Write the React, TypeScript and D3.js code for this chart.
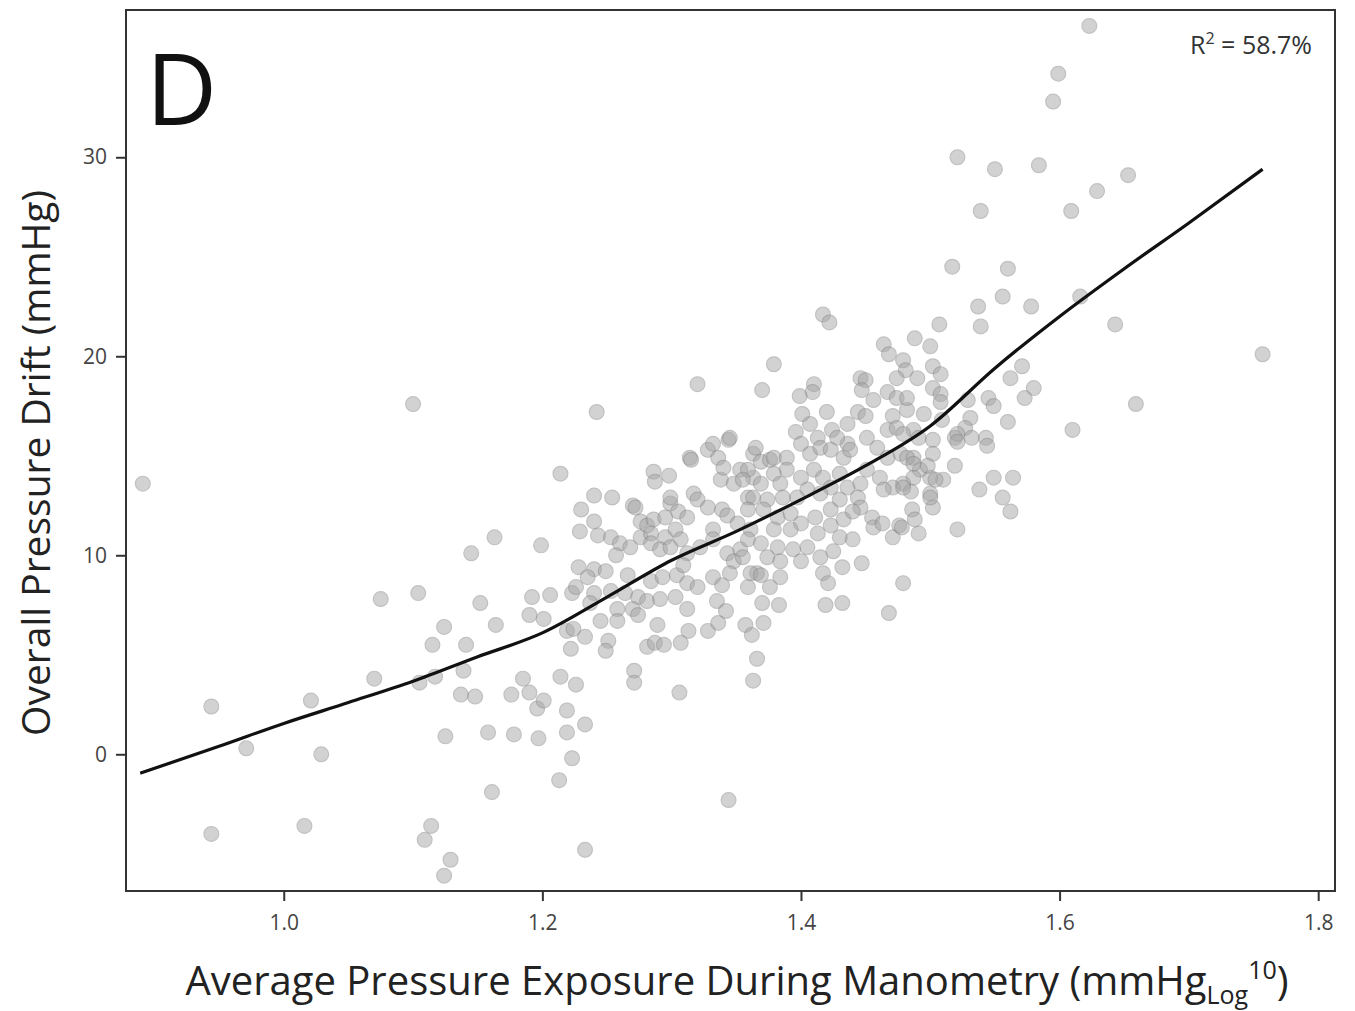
import React, { useEffect, useRef } from "react";
import * as d3 from "d3";

const WIDTH = 1355;
const HEIGHT = 1011;
const PLOT = { left: 126, right: 1335, top: 10, bottom: 891 };

const X_TICKS = [1.0, 1.2, 1.4, 1.6, 1.8];
const Y_TICKS = [0, 10, 20, 30];

// [average pressure exposure (log10 mmHg), overall pressure drift (mmHg)]
const POINTS: [number, number][] = [
  [0.891, 13.6], [1.100, 17.6], [1.163, 10.9], [1.145, 10.1], [1.199, 10.5], [1.075, 7.8], [1.104, 8.1],
  [1.152, 7.6], [1.192, 7.9], [1.190, 7.0], [1.124, 6.4], [1.164, 6.5], [1.115, 5.5], [1.141, 5.5],
  [1.070, 3.8], [1.105, 3.6], [1.117, 3.9], [1.139, 4.2], [1.185, 3.8], [1.137, 3.0], [1.148, 2.9],
  [1.176, 3.0], [1.190, 3.1], [1.196, 2.3], [1.021, 2.7], [0.944, 2.4], [0.971, 0.3], [1.029, 0.0],
  [1.125, 0.9], [1.158, 1.1], [1.178, 1.0], [1.161, -1.9], [0.944, -4.0], [1.016, -3.6], [1.114, -3.6],
  [1.109, -4.3], [1.129, -5.3], [1.124, -6.1], [1.197, 0.8],
  [1.214, 3.9], [1.226, 3.5], [1.201, 2.7], [1.219, 2.2], [1.219, 1.1], [1.223, -0.2], [1.213, -1.3],
  [1.233, 1.5], [1.233, -4.8], [1.344, -2.3], [1.242, 17.2],
  [1.214, 14.1], [1.240, 13.0], [1.254, 12.9], [1.230, 12.3], [1.240, 11.7], [1.229, 11.2], [1.243, 11.0],
  [1.253, 10.9], [1.270, 12.5], [1.272, 12.4], [1.286, 14.2], [1.298, 14.0], [1.287, 13.7], [1.314, 14.9],
  [1.328, 15.3], [1.332, 15.6], [1.344, 15.8], [1.276, 11.7], [1.281, 11.5], [1.286, 11.8], [1.295, 11.9],
  [1.299, 12.6], [1.305, 12.2], [1.312, 11.9], [1.317, 13.1], [1.320, 12.8], [1.328, 12.4], [1.332, 11.3],
  [1.339, 12.3], [1.343, 12.0], [1.338, 13.8], [1.348, 13.6], [1.353, 14.3], [1.359, 12.9], [1.363, 13.9],
  [1.363, 15.1], [1.351, 11.6], [1.361, 11.3], [1.276, 10.9], [1.284, 11.1], [1.295, 10.9], [1.303, 11.3],
  [1.307, 10.8], [1.260, 10.6], [1.257, 10.0], [1.268, 10.4], [1.284, 10.6], [1.291, 10.3], [1.299, 10.4],
  [1.312, 10.1], [1.322, 10.4], [1.332, 10.8], [1.343, 10.1], [1.348, 9.7], [1.353, 10.3], [1.359, 10.8],
  [1.228, 9.4], [1.240, 9.3], [1.249, 9.2], [1.235, 8.9], [1.266, 9.0], [1.284, 8.7], [1.293, 8.9],
  [1.304, 9.0], [1.309, 9.5], [1.312, 8.6], [1.320, 8.4], [1.332, 8.9], [1.339, 8.5], [1.345, 9.1],
  [1.359, 8.4], [1.366, 9.1], [1.206, 8.0], [1.223, 8.1], [1.226, 8.4], [1.240, 8.1], [1.253, 8.2],
  [1.237, 7.6], [1.264, 8.1], [1.274, 7.9], [1.281, 7.7], [1.291, 7.8], [1.303, 7.9], [1.312, 7.3],
  [1.335, 7.7], [1.342, 7.2], [1.258, 7.3], [1.258, 6.7], [1.270, 7.3], [1.274, 7.0], [1.245, 6.7],
  [1.201, 6.8], [1.219, 6.2], [1.224, 6.3], [1.233, 5.9], [1.251, 5.7], [1.222, 5.3], [1.249, 5.2],
  [1.281, 5.4], [1.287, 5.6], [1.294, 5.5], [1.289, 6.5], [1.307, 5.6], [1.313, 6.2], [1.328, 6.2],
  [1.336, 6.6], [1.357, 6.5], [1.362, 6.0], [1.271, 4.2], [1.271, 3.6], [1.306, 3.1], [1.363, 3.7],
  [1.366, 4.8],
  [1.320, 18.6], [1.370, 18.3], [1.379, 19.6], [1.345, 15.9], [1.315, 14.8], [1.336, 14.9], [1.365, 15.4],
  [1.369, 14.7], [1.340, 14.4], [1.376, 14.8], [1.299, 12.9], [1.417, 22.1], [1.422, 21.7],
  [1.464, 20.6], [1.468, 20.1], [1.488, 20.9], [1.500, 20.5], [1.479, 19.8], [1.481, 19.3], [1.474, 18.9],
  [1.490, 18.9], [1.502, 19.5], [1.508, 19.1], [1.502, 18.4], [1.508, 18.1], [1.446, 18.9], [1.450, 18.8],
  [1.447, 18.3], [1.410, 18.6], [1.409, 18.2], [1.399, 18.0], [1.420, 17.2], [1.401, 17.1], [1.407, 16.6],
  [1.396, 16.2], [1.413, 15.9], [1.424, 16.3], [1.436, 16.6], [1.444, 17.2], [1.450, 17.0], [1.456, 17.8],
  [1.467, 18.2], [1.474, 17.9], [1.471, 17.0], [1.482, 17.3], [1.495, 17.1], [1.467, 16.3], [1.474, 16.4],
  [1.487, 16.3], [1.451, 15.9], [1.436, 15.6], [1.428, 15.9], [1.400, 15.6], [1.407, 15.1], [1.415, 15.4],
  [1.423, 15.3], [1.433, 14.9], [1.438, 15.3], [1.459, 15.4], [1.467, 14.9], [1.477, 15.1], [1.487, 14.9],
  [1.502, 15.8], [1.502, 15.1], [1.519, 15.9], [1.519, 14.5], [1.510, 13.8], [1.500, 13.9], [1.492, 14.3],
  [1.487, 13.9], [1.479, 13.6], [1.471, 13.4], [1.461, 13.9], [1.464, 13.3], [1.485, 13.2], [1.500, 13.1],
  [1.502, 12.4], [1.486, 12.3], [1.491, 11.1], [1.476, 11.5], [1.471, 10.9], [1.488, 11.8], [1.521, 11.3],
  [1.379, 14.9], [1.389, 14.9], [1.389, 14.3], [1.379, 14.1], [1.359, 14.3], [1.355, 13.8], [1.369, 13.6],
  [1.384, 13.6], [1.400, 13.9], [1.410, 14.3], [1.417, 13.9], [1.430, 14.1], [1.423, 13.4], [1.436, 13.4],
  [1.446, 13.6], [1.451, 14.3], [1.405, 13.3], [1.415, 13.1], [1.397, 12.9], [1.386, 12.9], [1.374, 12.8],
  [1.363, 12.9], [1.359, 12.3], [1.371, 12.3], [1.382, 11.9], [1.392, 12.1], [1.400, 11.6], [1.411, 11.9],
  [1.423, 12.3], [1.430, 12.8], [1.444, 12.9], [1.446, 12.4], [1.433, 11.8], [1.440, 12.2], [1.423, 11.5],
  [1.413, 11.1], [1.430, 10.9], [1.440, 10.8], [1.455, 11.9], [1.456, 11.4], [1.463, 11.6], [1.379, 11.3],
  [1.392, 11.3], [1.369, 10.6], [1.382, 10.4], [1.394, 10.3], [1.405, 10.4], [1.415, 9.9], [1.425, 10.2],
  [1.355, 9.9], [1.374, 9.9], [1.384, 9.7], [1.400, 9.7], [1.432, 9.4], [1.447, 9.6], [1.361, 9.1],
  [1.369, 9.0], [1.384, 8.9], [1.417, 9.1], [1.421, 8.6], [1.376, 8.4], [1.370, 7.6], [1.383, 7.5],
  [1.419, 7.5], [1.432, 7.6], [1.479, 8.6], [1.468, 7.1], [1.371, 6.6],
  [1.537, 22.5], [1.556, 23.0], [1.578, 22.5], [1.539, 21.5], [1.507, 21.6], [1.482, 17.9], [1.508, 17.7],
  [1.509, 16.8], [1.529, 17.8], [1.545, 17.9], [1.549, 17.5], [1.531, 16.9], [1.527, 16.4], [1.521, 16.1],
  [1.521, 15.7], [1.532, 15.9], [1.543, 15.9], [1.544, 15.5], [1.560, 16.7], [1.562, 18.9], [1.571, 19.5],
  [1.580, 18.4], [1.573, 17.9], [1.610, 16.3], [1.643, 21.6], [1.479, 16.1], [1.491, 15.9], [1.482, 14.9],
  [1.487, 14.6], [1.498, 14.5], [1.479, 13.4], [1.500, 12.9], [1.504, 13.8], [1.478, 11.4], [1.538, 13.3],
  [1.549, 13.9], [1.564, 13.9], [1.556, 12.9], [1.562, 12.2],
  [1.623, 36.6], [1.599, 34.2], [1.595, 32.8], [1.521, 30.0], [1.550, 29.4], [1.584, 29.6], [1.653, 29.1],
  [1.629, 28.3], [1.539, 27.3], [1.609, 27.3], [1.517, 24.5], [1.560, 24.4], [1.616, 23.0], [1.757, 20.1],
  [1.659, 17.6],
];

// smoothed fit line
const FIT_X = [0.889, 0.95, 1.0, 1.05, 1.1, 1.15, 1.2, 1.25, 1.3, 1.35, 1.4, 1.45, 1.5, 1.55, 1.6, 1.65, 1.7, 1.757];
const FIT_Y = [-0.95, 0.4, 1.55, 2.6, 3.67, 4.9, 6.1, 7.9, 9.75, 11.2, 12.8, 14.5, 16.5, 19.4, 22.0, 24.4, 26.7, 29.4];

const FONT = "'Open Sans', 'DejaVu Sans', sans-serif";

export default function App() {
  const ref = useRef<SVGSVGElement | null>(null);

  useEffect(() => {
    const svg = d3.select(ref.current);
    svg.selectAll("*").remove();

    const x = d3.scaleLinear().domain([0.878, 1.813]).range([PLOT.left, PLOT.right]);
    const y = d3.scaleLinear().domain([-6.87, 37.4]).range([PLOT.bottom, PLOT.top]);

    // points
    svg.append("g")
      .selectAll("circle")
      .data(POINTS)
      .join("circle")
      .attr("cx", d => x(d[0]))
      .attr("cy", d => y(d[1]))
      .attr("r", 7.4)
      .attr("fill", "#a6a6a6")
      .attr("stroke", "#858585")
      .attr("stroke-width", 1.2)
      .attr("opacity", 0.5);

    // fit line
    const line = d3.line<number>()
      .x(d => x(d))
      .y((_, i) => y(FIT_Y[i]))
      .curve(d3.curveMonotoneX);
    svg.append("path")
      .attr("d", line(FIT_X))
      .attr("fill", "none")
      .attr("stroke", "#111")
      .attr("stroke-width", 3.2);

    // frame
    svg.append("rect")
      .attr("x", PLOT.left)
      .attr("y", PLOT.top)
      .attr("width", PLOT.right - PLOT.left)
      .attr("height", PLOT.bottom - PLOT.top)
      .attr("fill", "none")
      .attr("stroke", "#333")
      .attr("stroke-width", 2);

    const xAxis = svg.append("g")
      .attr("transform", `translate(0, ${PLOT.bottom})`)
      .call(d3.axisBottom(x).tickValues(X_TICKS).tickFormat(d3.format(".1f")).tickSize(10).tickPadding(14));
    const yAxis = svg.append("g")
      .attr("transform", `translate(${PLOT.left}, 0)`)
      .call(d3.axisLeft(y).tickValues(Y_TICKS).tickFormat(d3.format("d")).tickSize(10).tickPadding(9));

    [xAxis, yAxis].forEach(g => {
      g.select(".domain").remove();
      g.selectAll(".tick line").attr("stroke", "#333").attr("stroke-width", 2);
      g.selectAll(".tick text")
        .attr("fill", "#444")
        .attr("font-size", 21)
        .attr("font-family", FONT);
    });

    // panel letter
    svg.append("text")
      .attr("x", 146)
      .attr("y", 125)
      .attr("font-size", 98)
      .attr("font-family", FONT)
      .attr("fill", "#111")
      .text("D");

    // R squared
    const r2 = svg.append("text")
      .attr("x", 1312)
      .attr("y", 54)
      .attr("text-anchor", "end")
      .attr("font-size", 25)
      .attr("font-family", FONT)
      .attr("fill", "#333");
    r2.append("tspan").text("R");
    r2.append("tspan").attr("font-size", 16).attr("dy", -10).text("2");
    r2.append("tspan").attr("dy", 10).text(" = 58.7%");

    // y label
    svg.append("text")
      .attr("transform", `translate(50, 463) rotate(-90)`)
      .attr("text-anchor", "middle")
      .attr("font-size", 39)
      .attr("font-family", FONT)
      .attr("fill", "#222")
      .text("Overall Pressure Drift (mmHg)");

    // x label
    const xl = svg.append("text")
      .attr("x", 737)
      .attr("y", 995)
      .attr("text-anchor", "middle")
      .attr("font-size", 40)
      .attr("font-family", FONT)
      .attr("fill", "#222");
    xl.append("tspan").text("Average Pressure Exposure During Manometry (mmHg");
    xl.append("tspan").attr("font-size", 25).attr("dy", 9).text("Log");
    xl.append("tspan").attr("font-size", 25).attr("dy", -25).text("10");
    xl.append("tspan").attr("dy", 16).text(")");
  }, []);

  return (
    <svg
      ref={ref}
      width={WIDTH}
      height={HEIGHT}
      style={{ position: "absolute", left: 0, top: 0, background: "#fff" }}
    />
  );
}
